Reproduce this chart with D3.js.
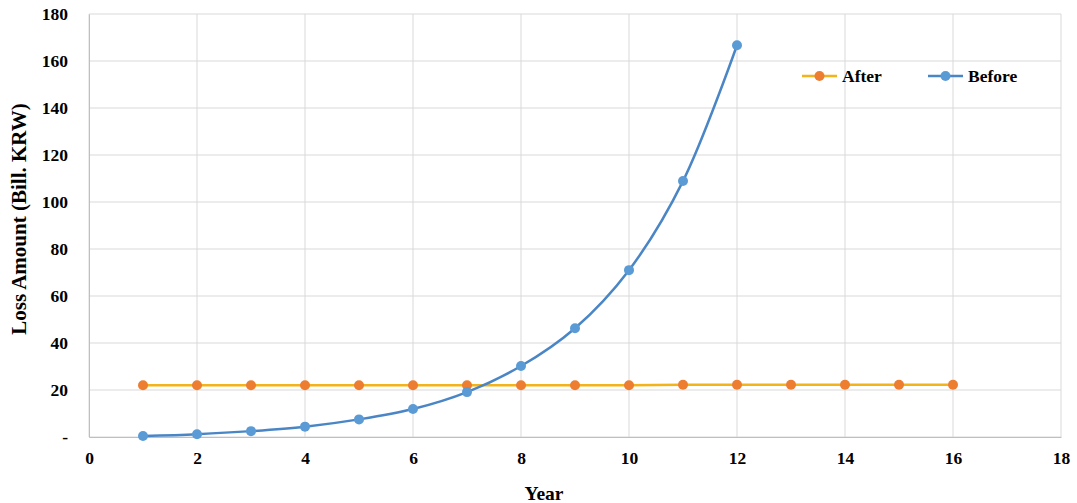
<!DOCTYPE html>
<html><head><meta charset="utf-8">
<script src="https://cdn.jsdelivr.net/npm/d3@7"></script>
<style>body{margin:0;background:#fff;} text{font-family:"Liberation Serif","Times New Roman",serif;font-weight:bold;}</style>
</head><body>
<svg id="c" width="1077" height="503"></svg>
<script>
const years = [1,2,3,4,5,6,7,8,9,10,11,12,13,14,15,16];
const afterValues = [22,22,22,22,22,22,22,22,22,22,22.2,22.2,22.2,22.2,22.2,22.2];
const beforeYears = [1,2,3,4,5,6,7,8,9,10,11,12];
const beforeValues = [0.4,1.2,2.5,4.4,7.5,11.9,19.1,30.2,46.3,71,108.9,166.7];
const xTicks = [0,2,4,6,8,10,12,14,16,18];
const yTicks = [0,20,40,60,80,100,120,140,160,180];
const seriesNames = ["After","Before"];

const svg = d3.select("#c");
const x = d3.scaleLinear().domain([0,18]).range([89,1061]);
const y = d3.scaleLinear().domain([0,180]).range([437,14]);

// gridlines
svg.append("g").selectAll("line").data(yTicks).join("line")
  .attr("x1",x(0)).attr("x2",x(18)).attr("y1",d=>y(d)).attr("y2",d=>y(d))
  .attr("stroke","#d9d9d9").attr("stroke-width",1);
svg.append("g").selectAll("line").data(xTicks).join("line")
  .attr("x1",d=>x(d)).attr("x2",d=>x(d)).attr("y1",y(0)).attr("y2",y(180))
  .attr("stroke","#d9d9d9").attr("stroke-width",1);

// axes
const xAxis = d3.axisBottom(x).tickValues(xTicks).tickSize(0).tickPadding(15);
const gx = svg.append("g").attr("transform",`translate(0,${y(0)})`).call(xAxis);
gx.select(".domain").attr("stroke","#bfbfbf");
gx.selectAll("text").attr("font-size",17.5).attr("fill","#000").style("font-family","Liberation Serif").style("font-weight","bold");

const yAxis = d3.axisLeft(y).tickValues(yTicks).tickSize(0).tickPadding(21).tickFormat(d=>d===0?"-":d);
const gy = svg.append("g").attr("transform",`translate(${x(0)},0)`).call(yAxis);
gy.select(".domain").attr("stroke","#bfbfbf");
gy.selectAll("text").attr("font-size",17.5).attr("fill","#000").style("font-family","Liberation Serif").style("font-weight","bold");

// axis titles
svg.append("text").attr("x",544).attr("y",500).attr("text-anchor","middle").attr("font-size",19.5).text("Year");
svg.append("text").attr("transform","translate(26,219) rotate(-90)").attr("text-anchor","middle").attr("font-size",21).text("Loss Amount (Bill. KRW)");

// After series
const afterData = years.map((d,i)=>[d,afterValues[i]]);
svg.append("path").datum(afterData)
  .attr("d",d3.line().x(d=>x(d[0])).y(d=>y(d[1])))
  .attr("fill","none").attr("stroke","#f2b31b").attr("stroke-width",2.5);
svg.append("g").selectAll("circle").data(afterData).join("circle")
  .attr("cx",d=>x(d[0])).attr("cy",d=>y(d[1])).attr("r",5).attr("fill","#ed7d31");

// Before series
const beforeData = beforeYears.map((d,i)=>[d,beforeValues[i]]);
svg.append("path").datum(beforeData)
  .attr("d",d3.line().curve(d3.curveCatmullRom.alpha(0.5)).x(d=>x(d[0])).y(d=>y(d[1])))
  .attr("fill","none").attr("stroke","#4a86c5").attr("stroke-width",2.5);
svg.append("g").selectAll("circle").data(beforeData).join("circle")
  .attr("cx",d=>x(d[0])).attr("cy",d=>y(d[1])).attr("r",5).attr("fill","#5b9bd5");

// legend
const legend = [
  {name:seriesNames[0], x1:802, line:"#f2b31b", mark:"#ed7d31"},
  {name:seriesNames[1], x1:928, line:"#4a86c5", mark:"#5b9bd5"}
];
const lg = svg.append("g").selectAll("g").data(legend).join("g").attr("transform",d=>`translate(${d.x1},76)`);
lg.append("line").attr("x1",0).attr("x2",35).attr("y1",0).attr("y2",0).attr("stroke",d=>d.line).attr("stroke-width",2.5);
lg.append("circle").attr("cx",17.5).attr("cy",0).attr("r",5).attr("fill",d=>d.mark);
lg.append("text").attr("x",40).attr("y",6).attr("font-size",17.5).text(d=>d.name);
</script>
</body></html>
